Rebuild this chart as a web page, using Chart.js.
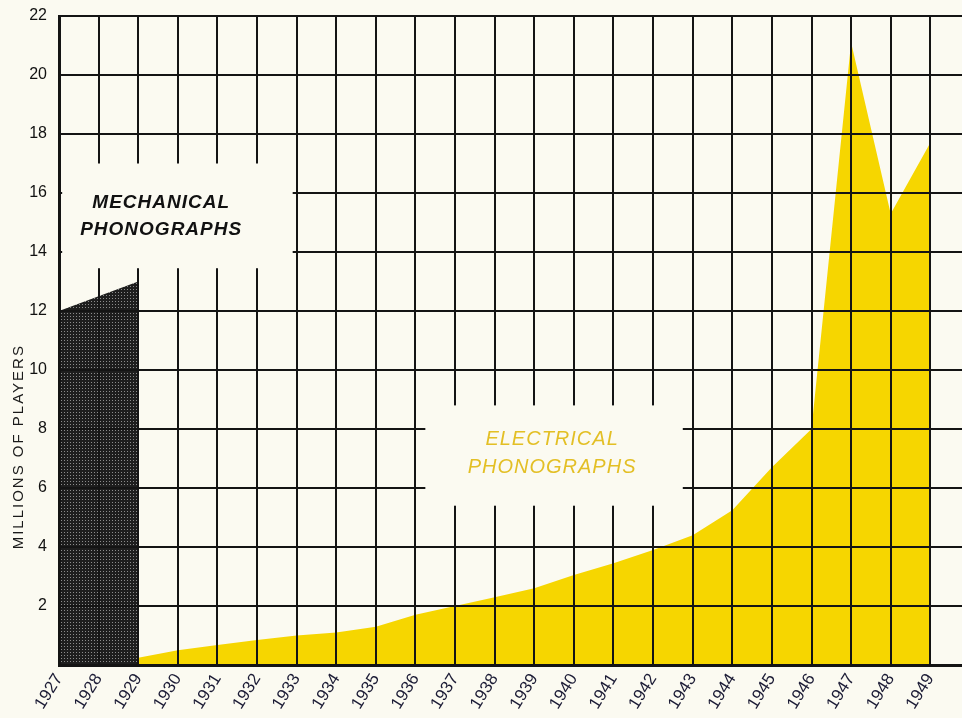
<!DOCTYPE html>
<html>
<head>
<meta charset="utf-8">
<script src="https://cdn.jsdelivr.net/npm/chart.js@4.4.0/dist/chart.umd.min.js"></script>
<style>
html, body { margin: 0; padding: 0; background: #fbfaf1; }
#wrap { width: 962px; height: 718px; }
</style>
</head>
<body>
<div id="wrap"><canvas id="myChart" width="962" height="718"></canvas></div>
<script>
// data (millions of players)
var mechYears = [1927, 1928, 1929];
var mechanical = [12.0, 12.5, 13.0];
var elecYears = [1929, 1930, 1931, 1932, 1933, 1934, 1935, 1936, 1937, 1938, 1939,
                 1940, 1941, 1942, 1943, 1944, 1945, 1946, 1947, 1948, 1949];
var electrical = [0.25, 0.5, 0.68, 0.85, 1.0, 1.1, 1.3, 1.7, 2.0, 2.3, 2.6,
                  3.05, 3.45, 3.9, 4.4, 5.25, 6.7, 8.0, 21.1, 15.3, 17.7];
var yTicks = [2, 4, 6, 8, 10, 12, 14, 16, 18, 20, 22];

var bg = '#fbfaf1';
var gridColor = '#141414';

function toPoints(xs, ys) {
    return xs.map(function (x, i) { return { x: x, y: ys[i] }; });
}

// dark stippled fill for the mechanical area
function stipple() {
    var c = document.createElement('canvas');
    c.width = 3; c.height = 3;
    var g = c.getContext('2d');
    g.fillStyle = '#1e1e1e';
    g.fillRect(0, 0, 3, 3);
    g.fillStyle = '#8c8c8c';
    g.fillRect(1, 1, 1, 1);
    return g.createPattern(c, 'repeat');
}

// white boxes that break the grid, with their captions
var notes = [
    { x0: 1927.08, x1: 1932.9, y0: 13.45, y1: 17.0, cx: 1929.58,
      lines: [['MECHANICAL', 15.66], ['PHONOGRAPHS', 14.75]],
      font: 'italic bold 19px "Liberation Sans", Arial, sans-serif', color: '#111' },
    { x0: 1936.25, x1: 1942.75, y0: 5.4, y1: 8.8, cx: 1939.45,
      lines: [['ELECTRICAL', 7.63], ['PHONOGRAPHS', 6.71]],
      font: 'italic 20px "Liberation Sans", Arial, sans-serif', color: '#e3bf25' }
];

var notesPlugin = {
    id: 'notes',
    afterDraw: function (chart) {
        var ctx = chart.ctx, xs = chart.scales.x, ys = chart.scales.y;
        ctx.save();
        notes.forEach(function (n) {
            var l = xs.getPixelForValue(n.x0), r = xs.getPixelForValue(n.x1);
            var t = ys.getPixelForValue(n.y1), b = ys.getPixelForValue(n.y0);
            ctx.fillStyle = bg;
            ctx.fillRect(l, t, r - l, b - t);
            ctx.font = n.font;
            ctx.fillStyle = n.color;
            ctx.textAlign = 'center';
            ctx.textBaseline = 'middle';
            ctx.letterSpacing = '1px';
            n.lines.forEach(function (ln) {
                ctx.fillText(ln[0], xs.getPixelForValue(n.cx), ys.getPixelForValue(ln[1]));
            });
        });
        // y axis title, sits low on the axis like the original
        ctx.translate(19, ys.getPixelForValue(7.4));
        ctx.rotate(-Math.PI / 2);
        ctx.font = '15px "Liberation Sans", Arial, sans-serif';
        ctx.letterSpacing = '2px';
        ctx.fillStyle = '#1a1a1a';
        ctx.textAlign = 'center';
        ctx.textBaseline = 'middle';
        ctx.fillText('MILLIONS OF PLAYERS', 0, 0);
        ctx.restore();
    }
};

var ctx = document.getElementById('myChart');
var chart = new Chart(ctx, {
    type: 'line',
    data: {
        datasets: [
            {
                label: 'Electrical phonographs',
                data: toPoints(elecYears, electrical),
                backgroundColor: '#f6d600',
                borderWidth: 0,
                pointRadius: 0,
                fill: 'origin',
                tension: 0
            },
            {
                label: 'Mechanical phonographs',
                data: toPoints(mechYears, mechanical),
                backgroundColor: stipple(),
                borderWidth: 0,
                pointRadius: 0,
                fill: 'origin',
                tension: 0
            }
        ]
    },
    options: {
        responsive: false,
        animation: false,
        layout: { padding: { top: 16, right: 0, bottom: 0, left: 0 } },
        plugins: { legend: { display: false }, tooltip: { enabled: false } },
        scales: {
            x: {
                type: 'linear',
                min: 1927,
                max: 1949.8,
                afterBuildTicks: function (s) {
                    s.ticks = s.ticks.filter(function (t) { return Number.isInteger(t.value); });
                },
                afterFit: function (s) { s.height = 53; s.paddingLeft = 0; s.paddingRight = 0; },
                ticks: {
                    stepSize: 1,
                    autoSkip: false,
                    maxRotation: 58,
                    minRotation: 58,
                    padding: 5,
                    color: '#1b1b35',
                    font: { family: '"Liberation Sans", Arial, sans-serif', size: 17 },
                    callback: function (v) { return String(v); }
                },
                grid: { color: gridColor, lineWidth: 2, drawTicks: false, z: 1 },
                border: { color: gridColor, width: 3, z: 1 }
            },
            y: {
                min: 0,
                max: 22,
                afterBuildTicks: function (s) {
                    s.ticks = [{ value: 0 }].concat(yTicks.map(function (v) { return { value: v }; }));
                },
                afterFit: function (s) { s.width = 59; s.paddingTop = 0; s.paddingBottom = 0; },
                ticks: {
                    padding: 12,
                    color: '#111',
                    font: { family: '"Liberation Sans", Arial, sans-serif', size: 16 },
                    callback: function (v) { return v === 0 ? '' : v; }
                },
                grid: { color: gridColor, lineWidth: 2, drawTicks: false, z: 1 },
                border: { color: gridColor, width: 3, z: 1 }
            }
        }
    },
    plugins: [notesPlugin]
});
</script>
</body>
</html>
